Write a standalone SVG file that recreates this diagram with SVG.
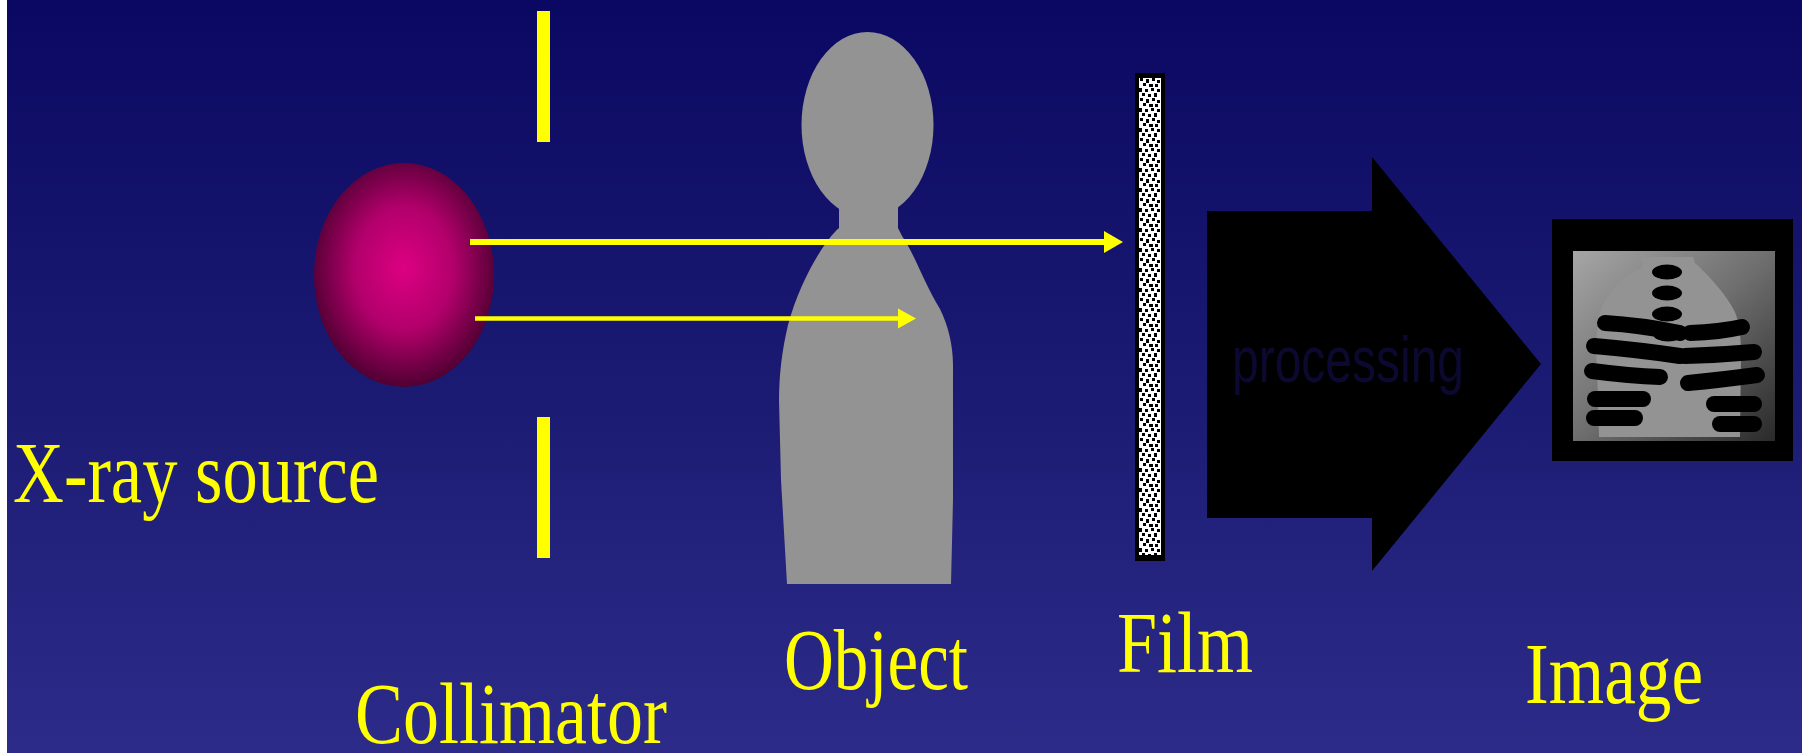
<svg xmlns="http://www.w3.org/2000/svg" width="1802" height="753" viewBox="0 0 1802 753">
  <defs>
    <linearGradient id="bg" x1="0" y1="0" x2="0" y2="1">
      <stop offset="0" stop-color="#0a0862"/>
      <stop offset="0.5" stop-color="#1b1a72"/>
      <stop offset="1" stop-color="#2c2b89"/>
    </linearGradient>
    <radialGradient id="tube" cx="0.5" cy="0.47" r="0.55">
      <stop offset="0" stop-color="#dd0082"/>
      <stop offset="0.5" stop-color="#b2006b"/>
      <stop offset="1" stop-color="#48002e"/>
    </radialGradient>
    <linearGradient id="xray" x1="0" y1="0" x2="1" y2="1">
      <stop offset="0" stop-color="#a6a6a6"/>
      <stop offset="0.5" stop-color="#6e6e6e"/>
      <stop offset="1" stop-color="#2a2a2a"/>
    </linearGradient>
    <pattern id="grain" width="22" height="20" patternUnits="userSpaceOnUse" x="1139" y="78">
      <rect width="22" height="20" fill="#ffffff"/>
      <g fill="#000000">
        <rect x="1" y="0" width="3" height="3"/>
        <rect x="7" y="1" width="3" height="4"/>
        <rect x="13" y="0" width="3" height="3"/>
        <rect x="18" y="2" width="3" height="3"/>
        <rect x="4" y="5" width="3" height="3"/>
        <rect x="10" y="6" width="4" height="3"/>
        <rect x="16" y="6" width="3" height="3"/>
        <rect x="0" y="10" width="3" height="4"/>
        <rect x="6" y="11" width="3" height="3"/>
        <rect x="12" y="10" width="3" height="3"/>
        <rect x="18" y="11" width="3" height="3"/>
        <rect x="3" y="15" width="3" height="3"/>
        <rect x="9" y="16" width="3" height="3"/>
        <rect x="15" y="15" width="3" height="4"/>
      </g>
    </pattern>
  </defs>
  <style>
    .lbl { font-family: "Liberation Serif", "DejaVu Serif", serif; font-size: 86px; fill: #ffff00; }
    .bar { fill: #ffff00; }
    .ray { stroke: #ffff00; fill: none; }
    .tip { fill: #ffff00; }
    .rib { stroke: #000000; stroke-width: 16; stroke-linecap: round; fill: none; }
    .vert { fill: #000000; }
  </style>

  <!-- backdrop -->
  <rect x="0" y="0" width="1802" height="753" fill="url(#bg)"/>
  <rect x="0" y="0" width="7" height="753" fill="#ffffff"/>

  <!-- X-ray tube -->
  <g id="source">
    <ellipse cx="404" cy="275" rx="90" ry="112" fill="url(#tube)"/>
    <text class="lbl" x="13" y="502" textLength="366" lengthAdjust="spacingAndGlyphs">X-ray source</text>
  </g>

  <!-- collimator jaws -->
  <g id="collimator">
    <rect class="bar" x="537" y="11" width="13" height="131"/>
    <rect class="bar" x="537" y="417" width="13" height="141"/>
    <text class="lbl" x="355" y="743" textLength="312" lengthAdjust="spacingAndGlyphs">Collimator</text>
  </g>

  <!-- patient silhouette -->
  <g id="object">
    <ellipse cx="867.5" cy="125" rx="66" ry="93" fill="#939393"/>
    <path fill="#939393" d="M839 200 L839 228 C825 240 800 280 788 325 C782 350 779 375 779 400 L781 480 L787 584 L951 584 L953 500 L953 365 C953 345 948 325 940 309 C925 285 915 255 902 236 L898 228 L898 200 Z"/>
    <text class="lbl" x="784" y="689" textLength="184" lengthAdjust="spacingAndGlyphs">Object</text>
  </g>

  <!-- detector film -->
  <g id="film">
    <rect x="1135" y="73" width="30" height="488" fill="#000000"/>
    <rect x="1139" y="78" width="22" height="477" fill="url(#grain)"/>
    <text class="lbl" x="1117" y="672" textLength="136" lengthAdjust="spacingAndGlyphs">Film</text>
  </g>

  <!-- processing block arrow -->
  <g id="processing">
    <path d="M1207 211 L1372 211 L1372 157 L1541 364 L1372 571 L1372 518 L1207 518 Z" fill="#000000"/>
    <text x="1232" y="382" font-family="Liberation Sans, Arial, sans-serif" font-size="64" fill="#0c0930" textLength="232" lengthAdjust="spacingAndGlyphs">processing</text>
  </g>

  <!-- radiograph -->
  <g id="image">
    <rect x="1552" y="219" width="241" height="242" fill="#000000"/>
    <rect x="1573" y="251" width="202" height="190" fill="url(#xray)"/>
    <path fill="#939393" d="M1642 257 L1693 257 L1695 263 C1705 272 1725 292 1735 312 C1740 325 1741 340 1741 355 L1740 437 L1599 437 L1597 367 C1595 340 1597 315 1605 300 C1615 283 1630 272 1642 268 Z"/>
    <ellipse class="vert" cx="1667" cy="272" rx="15" ry="7.5"/>
    <ellipse class="vert" cx="1667" cy="293" rx="15" ry="7.5"/>
    <ellipse class="vert" cx="1667" cy="314" rx="15" ry="7.5"/>
    <ellipse class="vert" cx="1668" cy="334" rx="15" ry="7.5"/>
    <path class="rib" d="M1605 323 Q1640 325 1680 333"/>
    <path class="rib" d="M1594 346 Q1640 350 1680 356"/>
    <path class="rib" d="M1592 371 Q1630 376 1660 377"/>
    <path class="rib" d="M1595 399 L1643 399"/>
    <path class="rib" d="M1594 418 L1635 418"/>
    <path class="rib" d="M1690 333 Q1720 332 1742 327"/>
    <path class="rib" d="M1685 356 Q1720 355 1754 352"/>
    <path class="rib" d="M1688 383 Q1720 380 1757 375"/>
    <path class="rib" d="M1714 404 L1754 404"/>
    <path class="rib" d="M1720 424 L1754 424"/>
    <text class="lbl" x="1525" y="703" textLength="178" lengthAdjust="spacingAndGlyphs">Image</text>
  </g>

  <!-- x-ray beams -->
  <g id="connectors">
    <line class="ray" x1="470" y1="242" x2="1106" y2="242" stroke-width="6"/>
    <path class="tip" d="M1104 231 L1123 242 L1104 253 Z"/>
    <line class="ray" x1="475" y1="318.5" x2="900" y2="318.5" stroke-width="4.5"/>
    <path class="tip" d="M898 308.5 L916 318.5 L898 328.5 Z"/>
  </g>
</svg>
